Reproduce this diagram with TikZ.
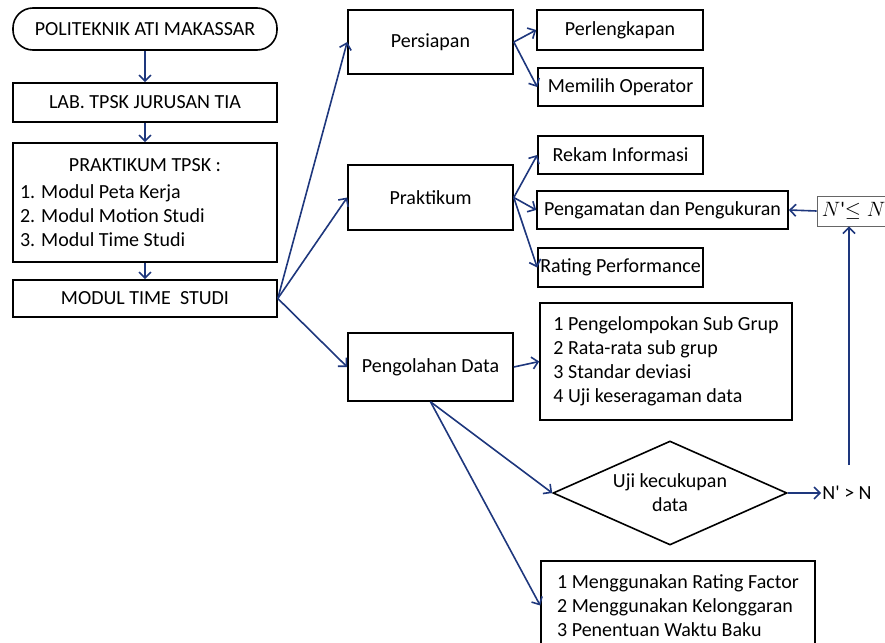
\documentclass[tikz,border=0pt]{standalone}
\usepackage{fontspec}
\setmainfont{Carlito}
\usetikzlibrary{arrows.meta,shapes.geometric}

\definecolor{panah}{RGB}{30,55,125}

\tikzset{
    kotak/.style={draw, line width=1.6pt, inner sep=0pt, font=\fontsize{20}{24}\selectfont},
    kecil/.style={kotak, minimum width=165pt, minimum height=38pt},
    tengah/.style={kotak, minimum width=165pt},
    kiri/.style={kotak, minimum width=264pt},
    panahbiru/.style={draw=panah, line width=1.6pt, -{Straight Barb[length=6pt,width=12pt]}}
}

\begin{document}
\begin{tikzpicture}[x=1pt, y=-1pt]
            \useasboundingbox (0,0) rectangle (885,642);

            % Kolom kiri
            %% Kotak
            \node[kiri, rounded corners=20pt, minimum height=42pt] (politeknik) at (145, 29) {POLITEKNIK ATI MAKASSAR};
            \node[kiri, minimum height=39pt] (lab) at (145, 102.5) {LAB. TPSK JURUSAN TIA};
            \node[kiri, minimum height=119pt, align=left] (tpsk) at (145, 202.5)
                {\makebox[250pt][c]{PRAKTIKUM TPSK :}\\[3pt]
                 1. Modul Peta Kerja\\ 2. Modul Motion Studi\\ 3. Modul Time Studi};
            \node[kiri, minimum height=37pt] (modul) at (145, 298.5) {MODUL TIME \ STUDI};

            %% Panah turun
            \draw[panahbiru] (politeknik) -- (lab);
            \draw[panahbiru] (lab) -- (tpsk);
            \draw[panahbiru] (tpsk) -- (modul);

            % Kolom tengah
            %% Kotak
            \node[tengah, minimum height=64pt] (persiapan) at (430.5, 42) {Persiapan};
            \node[tengah, minimum height=65pt] (praktikum) at (430.5, 197.5) {Praktikum};
            \node[tengah, minimum height=68pt] (olah) at (430.5, 367) {Pengolahan Data};

            %% Panah dari modul
            \draw[panahbiru] (modul.east) -- (persiapan.west);
            \draw[panahbiru] (modul.east) -- (praktikum.west);
            \draw[panahbiru] (modul.east) -- (olah.west);

            % Kolom kanan
            %% Persiapan
            \node[kecil, minimum width=166pt, minimum height=40pt] (perlengkapan) at (620, 30) {Perlengkapan};
            \node[kecil] (operator) at (620.5, 87) {Memilih Operator};
            \draw[panahbiru] (persiapan.east) -- (perlengkapan.west);
            \draw[panahbiru] (persiapan.east) -- (operator.west);

            %% Praktikum
            \node[kecil] (rekam) at (620.5, 155) {Rekam Informasi};
            \node[kecil, minimum width=251pt] (amat) at (662.5, 210) {Pengamatan dan Pengukuran};
            \node[kecil, minimum height=39pt] (rating) at (620.5, 267.5) {Rating Performance};
            \draw[panahbiru] (praktikum.east) -- (rekam.west);
            \draw[panahbiru] (praktikum.east) -- (amat.west);
            \draw[panahbiru] (praktikum.east) -- (rating.west);

            %% Pengolahan data
            \node[kotak, minimum width=252pt, minimum height=117pt, align=left] (kelompok) at (666, 361.5)
                {1 Pengelompokan Sub Grup\\ 2 Rata-rata sub grup\\ 3 Standar deviasi\\ 4 Uji keseragaman data};
            \node[kotak, diamond, aspect=2.25, minimum width=234pt, minimum height=104pt, align=center] (uji) at (670, 493)
                {Uji kecukupan\\ data};
            \node[kotak, minimum width=274pt, minimum height=89pt, align=left] (akhir) at (678, 605.5)
                {1 Menggunakan Rating Factor\\ 2 Menggunakan Kelonggaran\\ 3 Penentuan Waktu Baku};
            \draw[panahbiru] (olah.east) -- (kelompok.west);
            \draw[panahbiru] (olah.south) -- (uji.west);
            \draw[panahbiru] (olah.south) -- (akhir.west);

            % Uji kecukupan
            %% Hasil
            \node[font=\fontsize{20}{24}\selectfont, inner sep=1pt] (lebih) at (847, 493) {N\textquotesingle\ > N};
            \node[draw=black!60, line width=0.8pt, minimum width=73pt, minimum height=30pt,
                  inner sep=0pt, font=\fontsize{21}{24}\selectfont] (cukup) at (853.5, 211)
                {$N$\textquotesingle$\leq N$};
            \coordinate (naik) at (849, 465);

            %% Panah balik
            \draw[panahbiru] (uji.east) -- (lebih.west);
            \draw[panahbiru] (naik) -- (naik |- cukup.south);
            \draw[panahbiru] (cukup.west) -- (amat.east);
\end{tikzpicture}
\end{document}
